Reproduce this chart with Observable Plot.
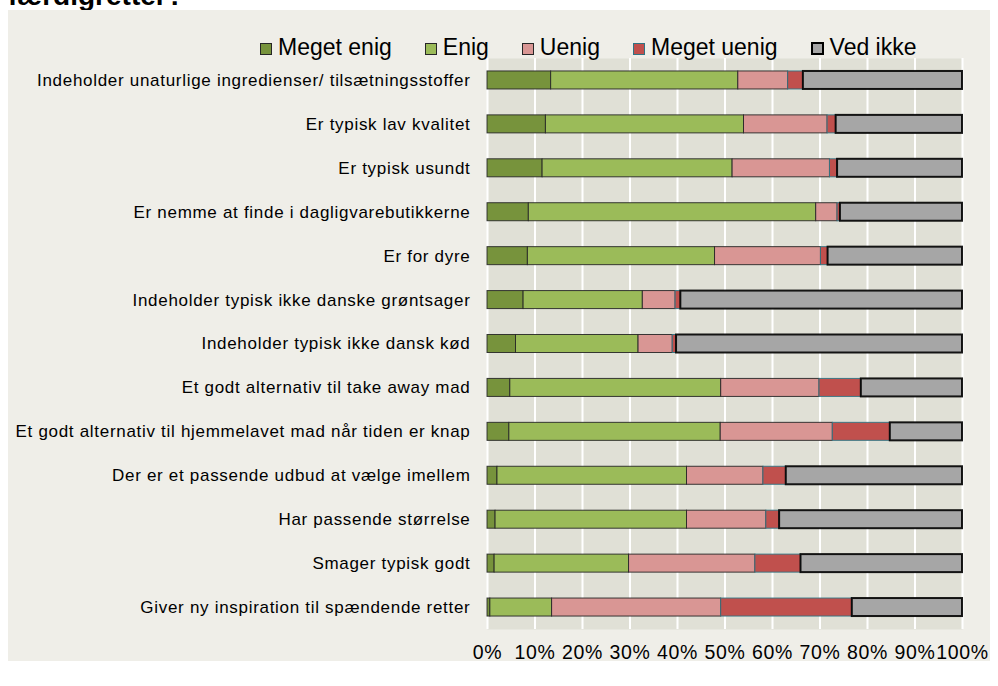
<!DOCTYPE html>
<html>
<head>
<meta charset="utf-8">
<script src="https://cdn.jsdelivr.net/npm/d3@7"></script>
<script src="https://cdn.jsdelivr.net/npm/@observablehq/plot@0.6"></script>
<style>
  html, body { margin: 0; padding: 0; background: #ffffff; width: 998px; height: 686px; overflow: hidden; }
  body { position: relative; font-family: "Liberation Sans", Arial, sans-serif; }
  #title { position: absolute; left: 8px; top: -18px; font-size: 28px; line-height: 28px; font-weight: bold; color: #000; white-space: nowrap; }
  #panel { position: absolute; left: 8px; top: 10px; width: 982px; height: 651px; background: #efeee8; }
  #chart { position: absolute; left: 0; top: 0; }
  #chart svg { background: transparent; }
  #chart svg [aria-label="y-axis tick label"] text { letter-spacing: 0.7px; }
  #chart svg [aria-label="x-axis tick label"] text { letter-spacing: 0.6px; }
  #legend { position: absolute; left: 260px; top: 36px; font-size: 23px; line-height: 23px; color: #000; white-space: nowrap; }
  #legend .item { display: inline-block; margin-right: 33px; }
  #legend .sw { display: inline-block; width: 10px; height: 10px; margin-right: 6px; vertical-align: baseline; box-sizing: content-box; }
</style>
</head>
<body>
<div id="title">færdigretter?</div>
<div id="panel"></div>
<div id="chart"></div>
<div id="legend"></div>
<script>
const categories = [
  "Indeholder unaturlige ingredienser/ tilsætningsstoffer",
  "Er typisk lav kvalitet",
  "Er typisk usundt",
  "Er nemme at finde i dagligvarebutikkerne",
  "Er for dyre",
  "Indeholder typisk ikke danske grøntsager",
  "Indeholder typisk ikke dansk kød",
  "Et godt alternativ til take away mad",
  "Et godt alternativ til hjemmelavet mad når tiden er knap",
  "Der er et passende udbud at vælge imellem",
  "Har passende størrelse",
  "Smager typisk godt",
  "Giver ny inspiration til spændende retter"
];
const series = ["Meget enig", "Enig", "Uenig", "Meget uenig", "Ved ikke"];
const megetEnig  = [13.4, 12.3, 11.6, 8.7, 8.5, 7.6, 6.0, 4.8, 4.6, 2.1, 1.7, 1.5, 0.6];
const enig       = [39.4, 41.7, 40.0, 60.5, 39.4, 25.1, 25.8, 44.4, 44.5, 39.9, 40.3, 28.3, 13.0];
const uenig      = [10.5, 17.6, 20.5, 4.5, 22.3, 6.9, 7.2, 20.7, 23.6, 16.1, 16.7, 26.6, 35.6];
const megetUenig = [3.2, 1.8, 1.6, 0.6, 1.5, 1.1, 0.8, 8.8, 12.1, 4.8, 2.8, 9.6, 27.6];
const vedIkke    = [33.5, 26.6, 26.3, 25.7, 28.3, 59.3, 60.2, 21.3, 15.2, 37.1, 38.5, 34.0, 23.2];
const xTicks = [0, 10, 20, 30, 40, 50, 60, 70, 80, 90, 100];

const colors = ["#77933c", "#9bbb59", "#d99694", "#c0504d", "#a6a6a6"];
const strokes = ["#262626", "#262626", "#262626", "#2f7484", "#000000"];
const strokeWidths = [1, 1, 1, 1, 2];

const valueArrays = [megetEnig, enig, uenig, megetUenig, vedIkke];
const rows = [];
categories.forEach((c, i) => {
  let acc = 0;
  series.forEach((s, j) => {
    const v = valueArrays[j][i];
    rows.push({category: c, series: s, value: v, x1: acc, x2: acc + v});
    acc += v;
  });
});

const barMarks = series.map((s, j) =>
  Plot.barX(rows.filter(r => r.series === s), {
    x1: "x1", x2: "x2", y: "category",
    fill: colors[j], stroke: strokes[j], strokeWidth: strokeWidths[j], strokeOpacity: 0.9
  })
);

const chart = Plot.plot({
  width: 998,
  height: 686,
  marginLeft: 487,
  marginRight: 36,
  marginTop: 58,
  marginBottom: 57,
  style: {fontFamily: "'Liberation Sans', Arial, sans-serif", background: "transparent", color: "#000"},
  x: {domain: [0, 100]},
  y: {domain: categories, paddingInner: 0.59, paddingOuter: 0.295, align: 0.5, round: false},
  marks: [
    Plot.frame({fill: "#e0e0d6", stroke: "none"}),
    Plot.gridX({ticks: xTicks, stroke: "#ffffff", strokeOpacity: 1, strokeWidth: 2}),
    ...barMarks,
    Plot.axisX({ticks: xTicks, tickSize: 0, tickPadding: 16, fontSize: 19.5, tickFormat: d => d + "%", label: null}),
    Plot.axisY({tickSize: 0, tickPadding: 17, fontSize: 17, label: null})
  ]
});
document.getElementById("chart").appendChild(chart);

const legend = document.getElementById("legend");
series.forEach((s, j) => {
  const item = document.createElement("span");
  item.className = "item";
  const sw = document.createElement("span");
  sw.className = "sw";
  sw.style.background = colors[j];
  sw.style.border = (j === 4 ? "2px solid #000" : "1px solid " + strokes[j]);
  if (j === 4) { sw.style.width = "9px"; sw.style.height = "9px"; }
  const t = document.createElement("span");
  t.textContent = s;
  item.appendChild(sw);
  item.appendChild(t);
  legend.appendChild(item);
});
</script>
</body>
</html>
